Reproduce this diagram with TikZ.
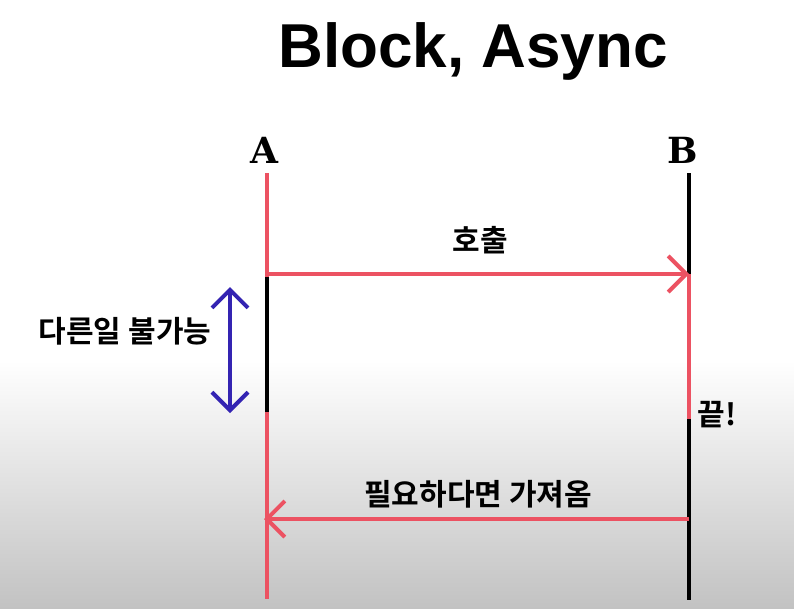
\documentclass[tikz,border=0pt]{standalone}
\usepackage{fontspec}
\setmainfont{Liberation Sans}
\newfontfamily\kr{Noto Sans CJK KR Bold}
\newfontfamily\ttl{Liberation Sans}
\newfontfamily\lbl{DejaVu Serif}
\usetikzlibrary{arrows.meta}
\definecolor{lnred}{RGB}{236,82,98}
\definecolor{lnblue}{RGB}{52,36,178}
\definecolor{bggray}{RGB}{194,194,194}
\tikzset{
  redline/.style={draw=lnred,line width=4pt},
  blkline/.style={draw=black,line width=4pt},
  barb/.style={-{Straight Barb[length=18pt,width=36pt,line width=4pt]}},
  krtext/.style={font=\kr\fontsize{30}{34}\selectfont,inner sep=0pt},
  party/.style={font=\lbl\bfseries\fontsize{36}{40}\selectfont,inner sep=0pt,anchor=base}
}
\begin{document}
\begin{tikzpicture}[x=1pt,y=-1pt]
\useasboundingbox (0,0) rectangle (794,608);
\fill[white] (0,0) rectangle (794,360);
\shade[top color=white,bottom color=bggray] (0,360) rectangle (794,608.5);
% title
\node[font=\ttl\bfseries\fontsize{62}{66}\selectfont,inner sep=0pt,anchor=base] (title) at (473,67) {Block, Async};
% party labels
\node[party] (A) at (264,163) {A};
\node[party] (B) at (683,163) {B};
% lifeline coordinates
\coordinate (a1) at (267,173);
\coordinate (a2) at (267,277);
\coordinate (a3) at (267,412);
\coordinate (a4) at (267,599);
\coordinate (b1) at (689,173);
\coordinate (b2) at (689,274);
\coordinate (b3) at (689,419);
\coordinate (b4) at (689,600);
\coordinate (ar) at (267,519);
\coordinate (br) at (689,519);
\coordinate (at) at (267,274);
% lifelines
\draw[redline] (a1) -- (a2);
\draw[blkline] (a2) -- (a3);
\draw[redline] (a3) -- (a4);
\draw[blkline] (b1) -- (b2);
\draw[redline] (b2) -- (b3);
\draw[blkline] (b3) -- (b4);
% messages
\draw[redline,barb] (at) -- (b2);
\draw[redline,barb] (br) -- ([xshift=-3pt]ar);
% blocked span
\coordinate (u1) at (230,287);
\coordinate (u2) at (230,413);
\draw[draw=lnblue,line width=4pt,{Straight Barb[length=18pt,width=36pt,line width=4pt]}-{Straight Barb[length=18pt,width=36pt,line width=4pt]}] (u1) -- (u2);
% labels
\node[krtext] (call) at (480,240) {호출};
\node[krtext] (busy) at (125,331) {다른일 불가능};
\node[krtext] (ret) at (478,494) {필요하다면 가져옴};
\node[krtext] (done) at (717,415) {끝!};
\end{tikzpicture}
\end{document}
